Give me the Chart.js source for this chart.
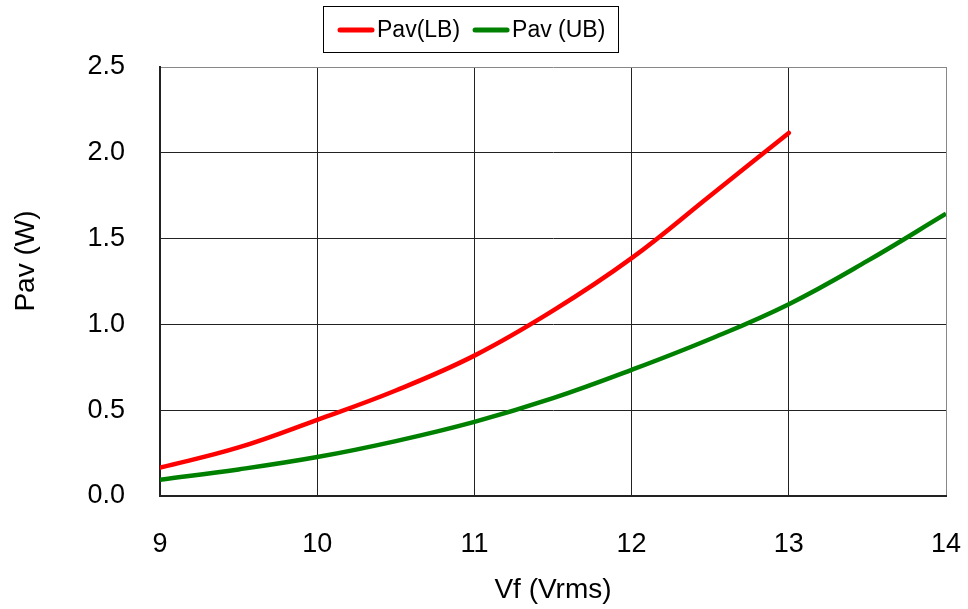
<!DOCTYPE html>
<html>
<head>
<meta charset="utf-8">
<script src="https://cdn.jsdelivr.net/npm/chart.js@4"></script>
<style>
html,body{margin:0;padding:0;background:#fff;}
#wrap{width:968px;height:609px;position:relative;}
</style>
</head>
<body>
<div id="wrap"><canvas id="c" width="968" height="609"></canvas></div>
<script>
// Data
const vfLB = [9, 9.5, 10, 10.5, 11, 11.5, 12, 12.5, 13];
const pavLB = [0.165, 0.283, 0.444, 0.615, 0.818, 1.08, 1.386, 1.75, 2.116];
const vfUB = [9, 9.5, 10, 10.5, 11, 11.5, 12, 12.5, 13, 13.5, 14];
const pavUB = [0.095, 0.155, 0.227, 0.32, 0.432, 0.57, 0.735, 0.915, 1.118, 1.37, 1.645];
const seriesNames = ['Pav(LB)', 'Pav (UB)'];
const seriesColors = ['#ff0000', '#008000'];
const xTitle = 'Vf (Vrms)';
const yTitle = 'Pav (W)';

const FONT = "'Liberation Sans', Arial, sans-serif";

// Boxed legend and rotated y-axis title
const decorations = {
  id: 'decorations',
  afterDraw(chart) {
    const ctx = chart.ctx;
    ctx.save();
    // legend
    ctx.font = '23px ' + FONT;
    ctx.textBaseline = 'middle';
    ctx.textAlign = 'left';
    const lineW = 36, gap = 3, itemGap = 13, cy = 30;
    const widths = seriesNames.map(n => ctx.measureText(n).width);
    const total = widths.reduce((a, w) => a + lineW + gap + w, 0) + itemGap * (seriesNames.length - 1);
    let x = 338;
    ctx.strokeStyle = '#000';
    ctx.lineWidth = 1;
    ctx.strokeRect(323.5, 6.5, Math.round(x - 323 + total + 13), 46);
    seriesNames.forEach((n, i) => {
      ctx.strokeStyle = seriesColors[i];
      ctx.lineWidth = 5;
      ctx.lineCap = 'round';
      ctx.beginPath();
      ctx.moveTo(x + 2, cy);
      ctx.lineTo(x + lineW - 2, cy);
      ctx.stroke();
      ctx.fillStyle = '#000';
      ctx.fillText(n, x + lineW + gap, cy + 1);
      x += lineW + gap + widths[i] + itemGap;
    });
    // y title
    ctx.font = '28px ' + FONT;
    ctx.textAlign = 'center';
    ctx.translate(26, 261);
    ctx.rotate(-Math.PI / 2);
    ctx.fillText(yTitle, 0, 0);
    ctx.restore();
  }
};

new Chart(document.getElementById('c'), {
  type: 'scatter',
  data: {
    datasets: [
      { label: seriesNames[0], data: vfLB.map((x, i) => ({x, y: pavLB[i]})), showLine: true,
        borderColor: seriesColors[0], backgroundColor: seriesColors[0], borderWidth: 4.5, pointRadius: 0,
        tension: 0.4, borderCapStyle: 'round' },
      { label: seriesNames[1], data: vfUB.map((x, i) => ({x, y: pavUB[i]})), showLine: true,
        borderColor: seriesColors[1], backgroundColor: seriesColors[1], borderWidth: 4.5, pointRadius: 0,
        tension: 0.4 }
    ]
  },
  options: {
    responsive: false,
    animation: false,
    layout: { padding: { top: 67, right: 22, left: 0, bottom: 0 } },
    plugins: {
      tooltip: { enabled: false },
      legend: { display: false }
    },
    scales: {
      x: {
        type: 'linear', min: 9, max: 14,
        ticks: { stepSize: 1, color: '#000', font: { family: FONT, size: 27 }, padding: 32 },
        grid: { color: ctx => (ctx.tick && ctx.tick.value === 14) ? '#888' : '#222', lineWidth: 1, drawTicks: false },
        border: { color: '#222', width: 2 },
        title: { display: true, text: xTitle, color: '#000', font: { family: FONT, size: 28 }, padding: { top: 4, bottom: 2 } },
        afterFit(s) { s.height = 113; s.paddingLeft = 0; s.paddingRight = 0; }
      },
      y: {
        type: 'linear', min: 0, max: 2.5,
        ticks: { stepSize: 0.5, color: '#000', font: { family: FONT, size: 27 }, padding: 35,
          callback: v => Number(v).toFixed(1) },
        grid: { color: ctx => (ctx.tick && ctx.tick.value === 2.5) ? '#888' : '#222', lineWidth: 1, drawTicks: false },
        border: { color: '#222', width: 2 },
        afterFit(s) { s.width = 160; s.paddingTop = 0; s.paddingBottom = 0; }
      }
    }
  },
  plugins: [decorations]
});
</script>
</body>
</html>
